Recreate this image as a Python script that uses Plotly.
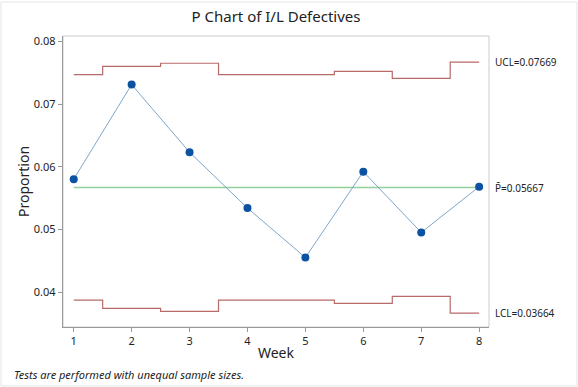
import plotly.graph_objects as go

weeks = [1, 2, 3, 4, 5, 6, 7, 8]
proportion = [0.0580, 0.0731, 0.0623, 0.0534, 0.0455, 0.0592, 0.0495, 0.0568]
ucl = [0.0747, 0.0760, 0.0765, 0.0747, 0.0747, 0.0752, 0.0741, 0.07669]
lcl = [0.0387, 0.0374, 0.0369, 0.0387, 0.0387, 0.0382, 0.0393, 0.03664]
pbar = 0.05667
ucl_label = "UCL=0.07669"
lcl_label = "LCL=0.03664"
pbar_label = "P\u0304=0.05667"

W, H = 578, 387
ml, mr, mt, mb = 63, 89, 36, 60
font = "Noto Sans"

fig = go.Figure()
fig.add_trace(go.Scatter(x=weeks, y=ucl, mode="lines", line=dict(color="#b86a68", width=1.2, shape="hvh"),
                         hoverinfo="skip"))
fig.add_trace(go.Scatter(x=weeks, y=lcl, mode="lines", line=dict(color="#b86a68", width=1.2, shape="hvh"),
                         hoverinfo="skip"))
fig.add_trace(go.Scatter(x=[weeks[0], weeks[-1]], y=[pbar, pbar], mode="lines",
                         line=dict(color="#93cf99", width=1.6), hoverinfo="skip"))
fig.add_trace(go.Scatter(x=weeks, y=proportion, mode="lines+markers",
                         line=dict(color="#6f9cc4", width=0.9),
                         marker=dict(color="#0b52a3", size=8)))

fig.update_layout(
    width=W, height=H,
    margin=dict(l=ml, r=mr, t=mt, b=mb),
    paper_bgcolor="white", plot_bgcolor="white",
    showlegend=False,
    font=dict(family=font, color="#222222"),
    title=dict(text="P Chart of I/L Defectives", x=0.5, xanchor="center", xref="paper",
               y=1 - 17 / H, yanchor="middle", font=dict(size=15, color="#222222")),
    xaxis=dict(range=[0.815, 8.17], tickvals=weeks, showgrid=False, zeroline=False,
               showline=True, linecolor="#999999", linewidth=1.3,
               ticks="outside", ticklen=4, tickcolor="#999999",
               tickfont=dict(size=11, color="#222222"),
               title=dict(text="Week", font=dict(size=14), standoff=0)),
    yaxis=dict(range=[0.03442, 0.08085], tickvals=[0.04, 0.05, 0.06, 0.07, 0.08],
               ticktext=["0.04", "0.05", "0.06", "0.07", "0.08"],
               showgrid=False, zeroline=False,
               showline=True, linecolor="#999999", linewidth=1.3,
               ticks="outside", ticklen=4, tickcolor="#999999",
               tickfont=dict(size=11, color="#222222"),
               title=dict(text="Proportion", font=dict(size=14), standoff=0)),
)

# light border around the data region (top and right)
fig.add_shape(type="rect", xref="paper", yref="paper", x0=0, y0=0, x1=1, y1=1,
              line=dict(color="#cccccc", width=1), layer="below")
# outer frame of the figure
pw, ph = W - ml - mr, H - mt - mb
fig.add_shape(type="rect", xref="paper", yref="paper",
              x0=(1 - ml) / pw, x1=(W - ml - 1) / pw,
              y0=-(mb - 1) / ph, y1=(H - mb - 2) / ph,
              line=dict(color="#e4e4e4", width=1))

for txt, yv in [(ucl_label, ucl[-1]), (pbar_label, pbar), (lcl_label, lcl[-1])]:
    fig.add_annotation(text=txt, xref="paper", yref="y", x=(493 - ml) / pw, y=yv,
                       xanchor="left", yanchor="middle", showarrow=False,
                       font=dict(size=10, color="#222222"))

fig.add_annotation(text="<i>Tests are performed with unequal sample sizes.</i>",
                   xref="paper", yref="paper", x=(12 - ml) / pw, y=-(374 - (H - mb)) / ph,
                   xanchor="left", yanchor="middle", showarrow=False,
                   font=dict(size=11, color="#222222"))

fig.write_html("out.html", config={"displayModeBar": False},
               post_script="document.body.style.margin='0';")
